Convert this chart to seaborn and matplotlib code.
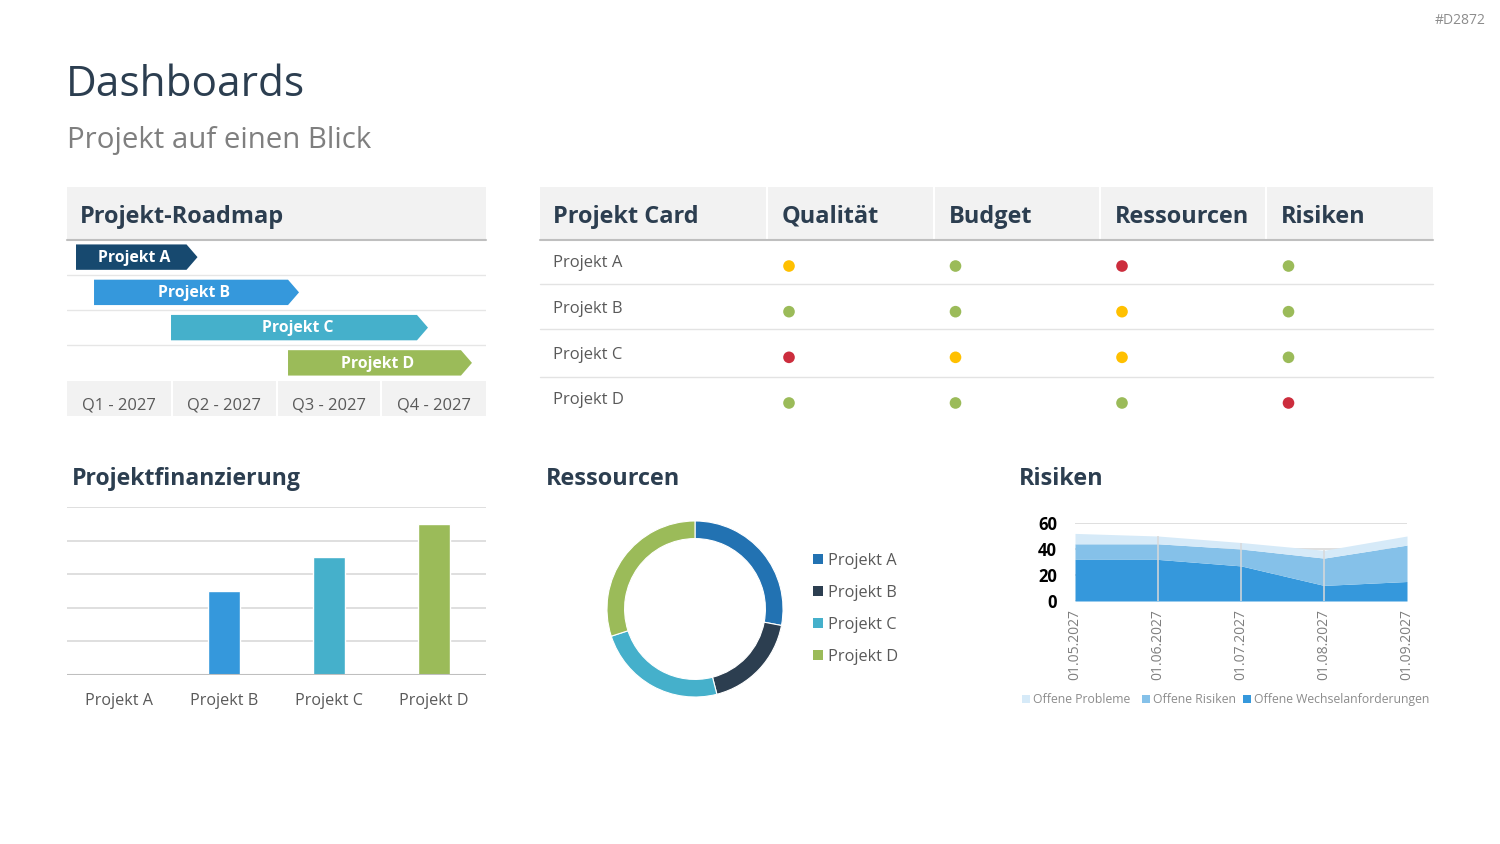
import matplotlib
matplotlib.use("Agg")
import numpy as np
import pandas as pd
import matplotlib.pyplot as plt
from matplotlib.patches import Polygon, Rectangle
import seaborn as sns

# ---- data ----
projects = ["Projekt A", "Projekt B", "Projekt C", "Projekt D"]
project_colors = ["#17496F", "#3598DC", "#45B0CB", "#9BBB59"]

quarters = ["Q1 - 2027", "Q2 - 2027", "Q3 - 2027", "Q4 - 2027"]
road_start = [0.086, 0.258, 0.993, 2.11]   # in quarters
road_end = [1.246, 2.215, 3.446, 3.866]

card_cols = ["Qualität", "Budget", "Ressourcen", "Risiken"]
card_status = [
    ["gelb", "grün", "rot", "grün"],
    ["grün", "grün", "gelb", "grün"],
    ["rot", "gelb", "gelb", "grün"],
    ["grün", "grün", "grün", "rot"],
]
status_colors = {"grün": "#9BBB59", "gelb": "#FFC000", "rot": "#CC2D3D"}

finance = [0, 2.5, 3.5, 4.5]

resources = [28, 18, 24, 30]
resource_colors = ["#2272B2", "#2C3E50", "#45B0CB", "#9BBB59"]

risk_dates = ["01.05.2027", "01.06.2027", "01.07.2027", "01.08.2027", "01.09.2027"]
risk_changes = [32, 32, 27, 12, 15]
risk_risks = [12, 12, 13, 21, 28]
risk_problems = [8, 6, 5, 6, 7]
risk_labels = ["Offene Probleme", "Offene Risiken", "Offene Wechselanforderungen"]
risk_colors = ["#D6EAF8", "#85C1E9", "#3598DC"]

# ---- style ----
sns.set_style("white")
plt.rcParams["font.family"] = ["Open Sans", "DejaVu Sans"]

DARK = "#2C3E50"
GRAY = "#595959"
HEAD = 16.9
W, H = 1500, 844

fig = plt.figure(figsize=(15, 8.44), dpi=100)


def box(x0, y0, x1, y1):
    ax = fig.add_axes([x0 / W, 1 - y1 / H, (x1 - x0) / W, (y1 - y0) / H])
    ax.set_facecolor("none")
    return ax


bg = fig.add_axes([0, 0, 1, 1])
bg.set_xlim(0, W)
bg.set_ylim(H, 0)
bg.axis("off")

# titles
bg.text(1486, 24, "#D2872", ha="right", va="baseline", fontsize=10, color="#8C8C8C")
bg.text(66, 96, "Dashboards", fontsize=30.5, color=DARK, va="baseline")
bg.text(67, 148, "Projekt auf einen Blick", fontsize=21.2, color="#7F7F7F", va="baseline")

# ---- roadmap ----
bg.add_patch(Rectangle((67, 187), 419, 52, color="#F2F2F2", lw=0))
bg.plot([67, 486], [239.5, 239.5], color="#BFBFBF", lw=1.5)
bg.text(80, 223, "Projekt-Roadmap", fontsize=HEAD, weight="bold", color=DARK, va="baseline")
bg.add_patch(Rectangle((67, 380.5), 419, 35, color="#F2F2F2", lw=0))
qw = 419 / 4
for k in range(1, 4):
    bg.plot([67 + qw * k] * 2, [380.5, 415.5], color="white", lw=1.5)
for k, q in enumerate(quarters):
    bg.text(67 + qw * (k + 0.5), 409, q, ha="center", va="baseline", fontsize=11.9, color=GRAY)

ax_r = box(67, 239.5, 486, 380.5)
ax_r.set_xlim(0, 4)
ax_r.set_ylim(4, 0)
ax_r.axis("off")
for k in (1, 2, 3):
    ax_r.axhline(k, color="#E6E6E6", lw=1)
bh = 0.36
tip = 0.105
for i, (s, e, c, name) in enumerate(zip(road_start, road_end, project_colors, projects)):
    yc = i + 0.5
    pts = [(s, yc - bh), (e - tip, yc - bh), (e, yc), (e - tip, yc + bh), (s, yc + bh)]
    ax_r.add_patch(Polygon(pts, closed=True, color=c, lw=0))
    ax_r.text((s + e) / 2 - 0.02, yc + 0.02, name, ha="center", va="center", color="white",
              fontsize=11.3, weight="bold")

# ---- project card ----
bg.add_patch(Rectangle((540, 187), 893, 52, color="#F2F2F2", lw=0))
col_x0 = [767, 934, 1100, 1266]
for x in col_x0:
    bg.plot([x, x], [187, 239], color="white", lw=1.5)
bg.plot([540, 1433], [239.5, 239.5], color="#BFBFBF", lw=1.5)
bg.text(553, 223, "Projekt Card", fontsize=HEAD, weight="bold", color=DARK, va="baseline")
for x, c in zip(col_x0, card_cols):
    bg.text(x + 15, 223, c, fontsize=HEAD, weight="bold", color=DARK, va="baseline")
for y in (283.5, 328.5, 377):
    bg.plot([540, 1433], [y, y], color="#E3E3E3", lw=1)

ax_c = box(705.75, 243.2, 1371.75, 425.8)
ax_c.axis("off")
card_df = pd.DataFrame(
    [(j, i, card_status[i][j]) for i in range(len(projects)) for j in range(len(card_cols))],
    columns=["col", "row", "status"],
)
sns.scatterplot(data=card_df, x="col", y="row", hue="status", palette=status_colors,
                s=70, linewidth=0, legend=False, ax=ax_c)
ax_c.set_xlim(-0.5, 3.5)
ax_c.set_ylim(3.5, -0.5)
for i, p in enumerate(projects):
    ax_c.text(-1.42, i + 0.03, p, ha="left", va="baseline", fontsize=12, color=GRAY)

# ---- Projektfinanzierung ----
bg.text(72, 485, "Projektfinanzierung", fontsize=HEAD - 0.3, weight="bold", color=DARK, va="baseline")
ax_f = box(67, 507, 486, 675)
sns.barplot(x=projects, y=finance, hue=projects, palette=project_colors, legend=False,
            width=0.305, saturation=1, ax=ax_f)
ax_f.set_xlim(-0.5, 3.5)
ax_f.set_ylim(0, 5)
ax_f.set_yticks(range(0, 6))
ax_f.set_yticklabels([])
ax_f.yaxis.grid(True, color="#D9D9D9", lw=1.2)
ax_f.set_axisbelow(True)
ax_f.axhline(0, color="#BFBFBF", lw=1.5)
sns.despine(ax=ax_f, left=True, bottom=True)
ax_f.tick_params(axis="both", length=0)
ax_f.tick_params(axis="x", pad=13, labelsize=11.6, labelcolor=GRAY)

# ---- Ressourcen ----
bg.text(546, 485, "Ressourcen", fontsize=HEAD, weight="bold", color=DARK, va="baseline")
ax_d = box(595, 509, 795, 709)
ax_d.pie(resources, colors=resource_colors, startangle=90, counterclock=False,
         wedgeprops=dict(width=0.2, edgecolor="white", linewidth=0.8))
ax_d.set_xlim(-1.136, 1.136)
ax_d.set_ylim(-1.136, 1.136)
ax_d.set_aspect("equal")
for i, (p, c) in enumerate(zip(projects, resource_colors)):
    y = 559 + 32 * i
    bg.add_patch(Rectangle((813, y - 5), 10, 10, color=c, lw=0))
    bg.text(828, y + 6, p, fontsize=11.8, color=GRAY, va="baseline")

# ---- Risiken ----
bg.text(1019, 485, "Risiken", fontsize=HEAD, weight="bold", color=DARK, va="baseline")
ax_k = box(1075, 523, 1407, 601)
xs = np.arange(len(risk_dates))
ax_k.stackplot(xs, risk_changes, risk_risks, risk_problems,
               colors=[risk_colors[2], risk_colors[1], risk_colors[0]], lw=0)
totals = np.array(risk_changes) + np.array(risk_risks) + np.array(risk_problems)
ax_k.vlines(xs[1:-1], 0, totals[1:-1], color="#D9D9D9", lw=1.1)
ax_k.set_xlim(0, len(risk_dates) - 1)
ax_k.set_ylim(0, 60)
ax_k.set_yticks([0, 20, 40, 60])
ax_k.set_yticklabels(["0", "20", "40", "60"], fontsize=12, weight="bold", color="black")
ax_k.set_xticks(xs)
ax_k.set_xticklabels(risk_dates, rotation=90, fontsize=10, color="#7F7F7F")
ax_k.yaxis.grid(True, color="#D9D9D9", lw=1.2)
ax_k.set_axisbelow(True)
sns.despine(ax=ax_k, left=True, bottom=True)
ax_k.tick_params(axis="both", length=0)
ax_k.tick_params(axis="y", pad=13)
ax_k.tick_params(axis="x", pad=6)

leg_x = [1026, 1146, 1247]
for x, lab, c in zip(leg_x, risk_labels, risk_colors):
    bg.add_patch(Rectangle((x - 4, 695), 8, 8, color=c, lw=0))
    bg.text(x + 7, 703, lab, fontsize=8.8, color="#8C8C8C", va="baseline")

fig.savefig("out.png", dpi=100)
plt.close(fig)
